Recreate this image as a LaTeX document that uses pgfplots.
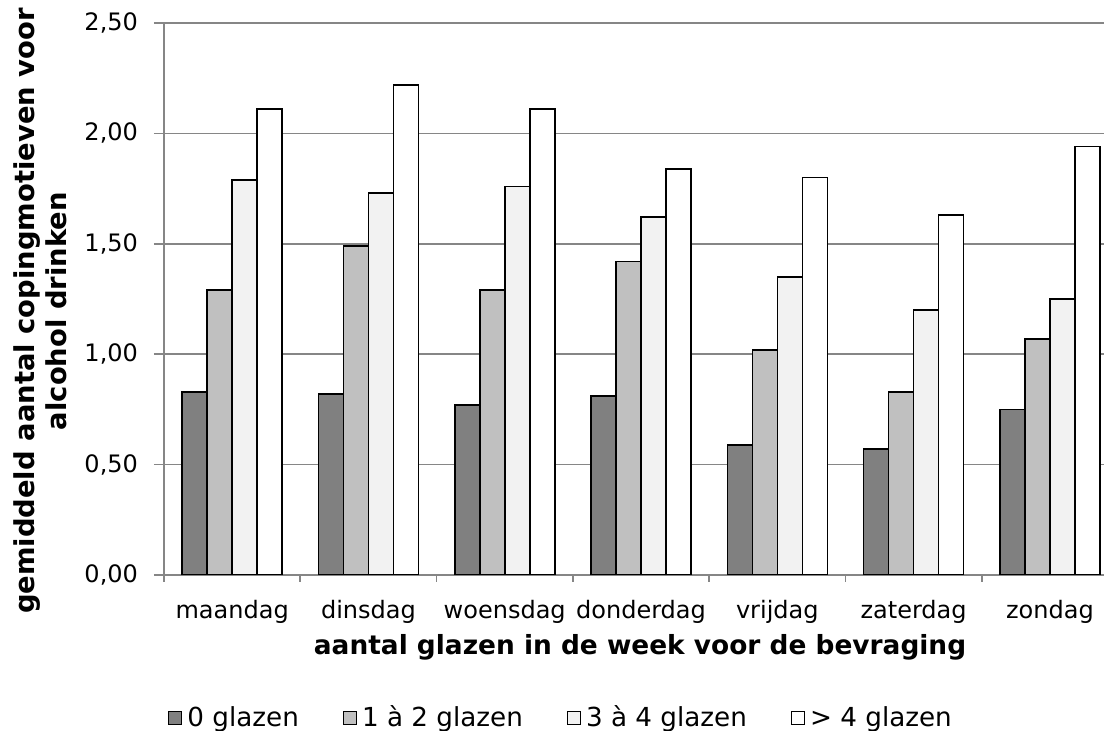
\documentclass[border=0pt]{standalone}
\usepackage{pgfplots}
\pgfplotsset{compat=1.18}
\usepackage{fontspec}
\setmainfont{DejaVu Sans}

\definecolor{barA}{HTML}{808080}
\definecolor{barB}{HTML}{C0C0C0}
\definecolor{barC}{HTML}{F2F2F2}
\definecolor{gridc}{HTML}{868686}

\begin{document}
\begin{tikzpicture}
\begin{axis}[
  at={(0,0)}, anchor=south west,
  scale only axis,
  width=470pt, height=276pt,
  ybar=0pt, bar width=12.5pt,
  xmin=-0.5, xmax=6.397,
  ymin=0, ymax=2.5,
  ytick={0,0.5,1,1.5,2,2.5},
  xtick={0,1,2,3,4,5,6},
  xticklabels={maandag,dinsdag,woensdag,donderdag,vrijdag,zaterdag,zondag},
  minor xtick={-0.5,0.5,1.5,2.5,3.5,4.5,5.5},
  axis x line*=bottom, axis y line*=left,
  axis line style={gridc, line width=0.8pt, -},
  tick align=outside,
  major tick length=5pt, minor tick length=3.5pt,
  major x tick style={draw=none},
  minor x tick style={gridc, line width=0.8pt},
  major y tick style={gridc, line width=0.8pt},
  ymajorgrids, grid style={gridc, line width=0.8pt},
  font=\fontsize{12}{14.4}\selectfont,
  /pgf/number format/.cd, use comma, fixed, fixed zerofill, precision=2, assume math mode=true,
  /pgfplots/.cd,
  yticklabel style={anchor=east, xshift=-4.5pt},
  xticklabel style={anchor=base, yshift=-17pt},
  xlabel={aantal glazen in de week voor de bevraging},
  xlabel style={at={(axis description cs:0.5064,-0.1304)}, anchor=center, font=\fontsize{13.2}{15.8}\selectfont\bfseries},
  ylabel={gemiddeld aantal copingmotieven voor\\alcohol drinken},
  ylabel style={at={(axis description cs:-0.1319,0.478)}, anchor=center, align=center, font=\fontsize{13.7}{16}\selectfont\bfseries},
  legend columns=-1,
  legend style={at={(axis description cs:0.424,-0.259)}, anchor=center, draw=none, fill=none,
    font=\fontsize{13.1}{15.7}\selectfont,
    /tikz/every even column/.append style={column sep=19.5pt},
    /tikz/every odd column/.append style={column sep=0pt}, inner sep=0pt,
    nodes={inner xsep=2.5pt}},
  legend image code/.code={\draw[#1, line width=0.6pt] (0pt,-3.3pt) rectangle (6.5pt,3.3pt);},
]
\addplot[draw=black, line width=0.8pt, fill=barA] coordinates {
  (0,0.83) (1,0.82) (2,0.77) (3,0.81) (4,0.59) (5,0.57) (6,0.75)};
\addlegendentry{0 glazen}
\addplot[draw=black, line width=0.8pt, fill=barB] coordinates {
  (0,1.29) (1,1.49) (2,1.29) (3,1.42) (4,1.02) (5,0.83) (6,1.07)};
\addlegendentry{1 à 2 glazen}
\addplot[draw=black, line width=0.8pt, fill=barC] coordinates {
  (0,1.79) (1,1.73) (2,1.76) (3,1.62) (4,1.35) (5,1.20) (6,1.25)};
\addlegendentry{3 à 4 glazen}
\addplot[draw=black, line width=0.8pt, fill=white] coordinates {
  (0,2.11) (1,2.22) (2,2.11) (3,1.84) (4,1.80) (5,1.63) (6,1.94)};
\addlegendentry{> 4 glazen}
\end{axis}
\pgfresetboundingbox
\path[use as bounding box] (-82pt,-78pt) rectangle (470pt,287.5pt);
\end{tikzpicture}
\end{document}
